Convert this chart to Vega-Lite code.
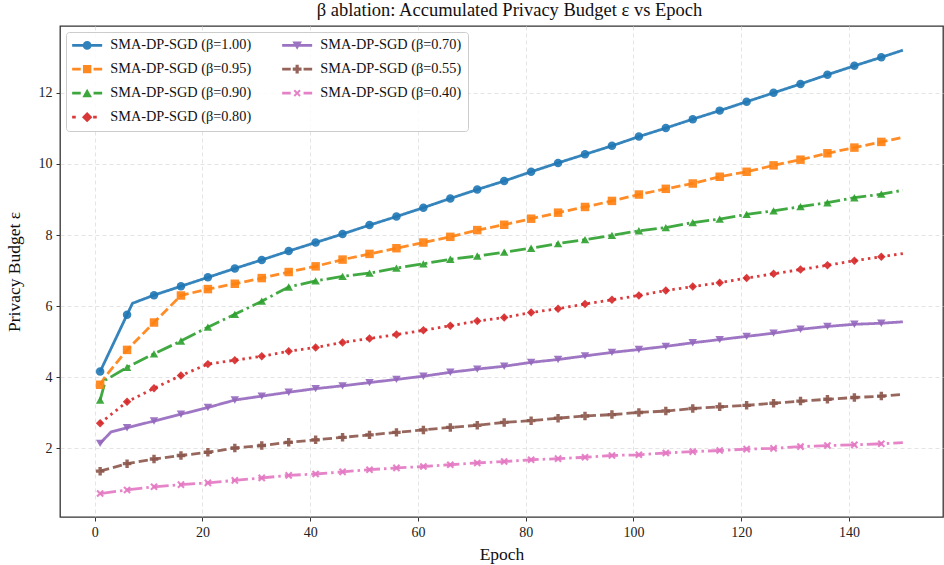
{
  "$schema": "https://vega.github.io/schema/vega-lite/v6.json",
  "width": 883,
  "height": 491,
  "autosize": {"type": "none"},
  "padding": {"left": 60, "top": 26, "right": 1, "bottom": 48},
  "background": "white",
  "config": {
    "view": {"stroke": "#333333", "strokeWidth": 1.3},
    "font": "Liberation Serif",
    "axis": {
      "domain": false,
      "labelFont": "Liberation Serif",
      "labelFontSize": 14,
      "labelColor": "#222222",
      "titleFont": "Liberation Serif",
      "titleFontSize": 17.5,
      "titleFontWeight": "normal",
      "titleColor": "#111111",
      "tickColor": "#333333",
      "tickSize": 4,
      "tickWidth": 1,
      "grid": true,
      "gridColor": "#dddddd",
      "gridDash": [4, 3],
      "gridWidth": 0.8
    },
    "title": {"font": "Liberation Serif", "fontSize": 18.5, "fontWeight": "normal", "color": "#111111", "offset": 7, "dx": 8}
  },
  "title": {"text": "β ablation: Accumulated Privacy Budget ε vs Epoch"},
  "data": {
    "values": [
      {"s":"1.00","e":1,"v":4.16},{"s":"1.00","e":6,"v":5.76},{"s":"1.00","e":7,"v":6.08},{"s":"1.00","e":11,"v":6.31},{"s":"1.00","e":16,"v":6.56},{"s":"1.00","e":21,"v":6.81},{"s":"1.00","e":26,"v":7.06},{"s":"1.00","e":31,"v":7.30},{"s":"1.00","e":36,"v":7.55},{"s":"1.00","e":41,"v":7.79},{"s":"1.00","e":46,"v":8.03},{"s":"1.00","e":51,"v":8.28},{"s":"1.00","e":56,"v":8.52},{"s":"1.00","e":61,"v":8.77},{"s":"1.00","e":66,"v":9.03},{"s":"1.00","e":71,"v":9.28},{"s":"1.00","e":76,"v":9.52},{"s":"1.00","e":81,"v":9.78},{"s":"1.00","e":86,"v":10.03},{"s":"1.00","e":91,"v":10.27},{"s":"1.00","e":96,"v":10.51},{"s":"1.00","e":101,"v":10.77},{"s":"1.00","e":106,"v":11.01},{"s":"1.00","e":111,"v":11.26},{"s":"1.00","e":116,"v":11.50},{"s":"1.00","e":121,"v":11.75},{"s":"1.00","e":126,"v":12.00},{"s":"1.00","e":131,"v":12.25},{"s":"1.00","e":136,"v":12.51},{"s":"1.00","e":141,"v":12.76},{"s":"1.00","e":146,"v":13.00},{"s":"1.00","e":150,"v":13.20},
      {"s":"0.95","e":1,"v":3.79},{"s":"0.95","e":2,"v":4.03},{"s":"0.95","e":6,"v":4.77},{"s":"0.95","e":11,"v":5.54},{"s":"0.95","e":16,"v":6.30},{"s":"0.95","e":21,"v":6.48},{"s":"0.95","e":26,"v":6.63},{"s":"0.95","e":31,"v":6.79},{"s":"0.95","e":36,"v":6.96},{"s":"0.95","e":41,"v":7.12},{"s":"0.95","e":46,"v":7.31},{"s":"0.95","e":51,"v":7.47},{"s":"0.95","e":56,"v":7.63},{"s":"0.95","e":61,"v":7.79},{"s":"0.95","e":66,"v":7.95},{"s":"0.95","e":71,"v":8.14},{"s":"0.95","e":76,"v":8.29},{"s":"0.95","e":81,"v":8.46},{"s":"0.95","e":86,"v":8.63},{"s":"0.95","e":91,"v":8.79},{"s":"0.95","e":96,"v":8.96},{"s":"0.95","e":101,"v":9.14},{"s":"0.95","e":106,"v":9.30},{"s":"0.95","e":111,"v":9.45},{"s":"0.95","e":116,"v":9.64},{"s":"0.95","e":121,"v":9.78},{"s":"0.95","e":126,"v":9.96},{"s":"0.95","e":131,"v":10.12},{"s":"0.95","e":136,"v":10.30},{"s":"0.95","e":141,"v":10.46},{"s":"0.95","e":146,"v":10.62},{"s":"0.95","e":150,"v":10.75},
      {"s":"0.90","e":1,"v":3.36},{"s":"0.90","e":2,"v":3.92},{"s":"0.90","e":6,"v":4.28},{"s":"0.90","e":11,"v":4.66},{"s":"0.90","e":16,"v":5.02},{"s":"0.90","e":21,"v":5.41},{"s":"0.90","e":26,"v":5.77},{"s":"0.90","e":31,"v":6.14},{"s":"0.90","e":36,"v":6.54},{"s":"0.90","e":41,"v":6.71},{"s":"0.90","e":46,"v":6.84},{"s":"0.90","e":51,"v":6.93},{"s":"0.90","e":56,"v":7.07},{"s":"0.90","e":61,"v":7.19},{"s":"0.90","e":66,"v":7.32},{"s":"0.90","e":71,"v":7.41},{"s":"0.90","e":76,"v":7.52},{"s":"0.90","e":81,"v":7.63},{"s":"0.90","e":86,"v":7.76},{"s":"0.90","e":91,"v":7.87},{"s":"0.90","e":96,"v":7.99},{"s":"0.90","e":101,"v":8.12},{"s":"0.90","e":106,"v":8.21},{"s":"0.90","e":111,"v":8.35},{"s":"0.90","e":116,"v":8.45},{"s":"0.90","e":121,"v":8.58},{"s":"0.90","e":126,"v":8.68},{"s":"0.90","e":131,"v":8.80},{"s":"0.90","e":136,"v":8.91},{"s":"0.90","e":141,"v":9.05},{"s":"0.90","e":146,"v":9.15},{"s":"0.90","e":150,"v":9.26},
      {"s":"0.80","e":1,"v":2.71},{"s":"0.80","e":6,"v":3.31},{"s":"0.80","e":11,"v":3.69},{"s":"0.80","e":16,"v":4.05},{"s":"0.80","e":21,"v":4.37},{"s":"0.80","e":26,"v":4.48},{"s":"0.80","e":31,"v":4.59},{"s":"0.80","e":36,"v":4.73},{"s":"0.80","e":41,"v":4.84},{"s":"0.80","e":46,"v":4.98},{"s":"0.80","e":51,"v":5.09},{"s":"0.80","e":56,"v":5.20},{"s":"0.80","e":61,"v":5.32},{"s":"0.80","e":66,"v":5.45},{"s":"0.80","e":71,"v":5.58},{"s":"0.80","e":76,"v":5.68},{"s":"0.80","e":81,"v":5.82},{"s":"0.80","e":86,"v":5.93},{"s":"0.80","e":91,"v":6.06},{"s":"0.80","e":96,"v":6.18},{"s":"0.80","e":101,"v":6.30},{"s":"0.80","e":106,"v":6.44},{"s":"0.80","e":111,"v":6.55},{"s":"0.80","e":116,"v":6.66},{"s":"0.80","e":121,"v":6.79},{"s":"0.80","e":126,"v":6.91},{"s":"0.80","e":131,"v":7.03},{"s":"0.80","e":136,"v":7.15},{"s":"0.80","e":141,"v":7.28},{"s":"0.80","e":146,"v":7.39},{"s":"0.80","e":150,"v":7.48},
      {"s":"0.70","e":1,"v":2.14},{"s":"0.70","e":3,"v":2.46},{"s":"0.70","e":6,"v":2.58},{"s":"0.70","e":11,"v":2.77},{"s":"0.70","e":16,"v":2.96},{"s":"0.70","e":21,"v":3.15},{"s":"0.70","e":26,"v":3.36},{"s":"0.70","e":31,"v":3.47},{"s":"0.70","e":36,"v":3.58},{"s":"0.70","e":41,"v":3.68},{"s":"0.70","e":46,"v":3.76},{"s":"0.70","e":51,"v":3.85},{"s":"0.70","e":56,"v":3.94},{"s":"0.70","e":61,"v":4.03},{"s":"0.70","e":66,"v":4.14},{"s":"0.70","e":71,"v":4.23},{"s":"0.70","e":76,"v":4.31},{"s":"0.70","e":81,"v":4.42},{"s":"0.70","e":86,"v":4.50},{"s":"0.70","e":91,"v":4.60},{"s":"0.70","e":96,"v":4.70},{"s":"0.70","e":101,"v":4.78},{"s":"0.70","e":106,"v":4.87},{"s":"0.70","e":111,"v":4.97},{"s":"0.70","e":116,"v":5.06},{"s":"0.70","e":121,"v":5.15},{"s":"0.70","e":126,"v":5.24},{"s":"0.70","e":131,"v":5.35},{"s":"0.70","e":136,"v":5.43},{"s":"0.70","e":141,"v":5.49},{"s":"0.70","e":146,"v":5.52},{"s":"0.70","e":150,"v":5.56},
      {"s":"0.55","e":1,"v":1.36},{"s":"0.55","e":6,"v":1.57},{"s":"0.55","e":11,"v":1.70},{"s":"0.55","e":16,"v":1.80},{"s":"0.55","e":21,"v":1.89},{"s":"0.55","e":26,"v":2.01},{"s":"0.55","e":31,"v":2.08},{"s":"0.55","e":36,"v":2.17},{"s":"0.55","e":41,"v":2.24},{"s":"0.55","e":46,"v":2.31},{"s":"0.55","e":51,"v":2.38},{"s":"0.55","e":56,"v":2.45},{"s":"0.55","e":61,"v":2.52},{"s":"0.55","e":66,"v":2.59},{"s":"0.55","e":71,"v":2.65},{"s":"0.55","e":76,"v":2.73},{"s":"0.55","e":81,"v":2.78},{"s":"0.55","e":86,"v":2.85},{"s":"0.55","e":91,"v":2.91},{"s":"0.55","e":96,"v":2.95},{"s":"0.55","e":101,"v":3.01},{"s":"0.55","e":106,"v":3.05},{"s":"0.55","e":111,"v":3.12},{"s":"0.55","e":116,"v":3.17},{"s":"0.55","e":121,"v":3.21},{"s":"0.55","e":126,"v":3.27},{"s":"0.55","e":131,"v":3.33},{"s":"0.55","e":136,"v":3.38},{"s":"0.55","e":141,"v":3.43},{"s":"0.55","e":146,"v":3.47},{"s":"0.55","e":150,"v":3.52},
      {"s":"0.40","e":1,"v":0.73},{"s":"0.40","e":6,"v":0.83},{"s":"0.40","e":11,"v":0.92},{"s":"0.40","e":16,"v":0.98},{"s":"0.40","e":21,"v":1.03},{"s":"0.40","e":26,"v":1.10},{"s":"0.40","e":31,"v":1.17},{"s":"0.40","e":36,"v":1.24},{"s":"0.40","e":41,"v":1.28},{"s":"0.40","e":46,"v":1.34},{"s":"0.40","e":51,"v":1.40},{"s":"0.40","e":56,"v":1.45},{"s":"0.40","e":61,"v":1.49},{"s":"0.40","e":66,"v":1.54},{"s":"0.40","e":71,"v":1.59},{"s":"0.40","e":76,"v":1.63},{"s":"0.40","e":81,"v":1.68},{"s":"0.40","e":86,"v":1.71},{"s":"0.40","e":91,"v":1.75},{"s":"0.40","e":96,"v":1.80},{"s":"0.40","e":101,"v":1.82},{"s":"0.40","e":106,"v":1.87},{"s":"0.40","e":111,"v":1.91},{"s":"0.40","e":116,"v":1.94},{"s":"0.40","e":121,"v":1.98},{"s":"0.40","e":126,"v":2.00},{"s":"0.40","e":131,"v":2.05},{"s":"0.40","e":136,"v":2.08},{"s":"0.40","e":141,"v":2.10},{"s":"0.40","e":146,"v":2.13},{"s":"0.40","e":150,"v":2.16}
    ]
  },
  "encoding": {
    "x": {
      "field": "e", "type": "quantitative", "title": "Epoch",
      "scale": {"domain": [-6.45, 157.45], "nice": false, "zero": false},
      "axis": {"values": [0, 20, 40, 60, 80, 100, 120, 140], "labelPadding": 4, "titlePadding": 6}
    },
    "y": {
      "field": "v", "type": "quantitative", "title": "Privacy Budget ε",
      "scale": {"domain": [0.07, 13.88], "nice": false, "zero": false},
      "axis": {"values": [2, 4, 6, 8, 10, 12], "labelPadding": 4, "titlePadding": 15}
    },
    "color": {
      "field": "s", "type": "nominal",
      "scale": {
        "domain": ["1.00", "0.95", "0.90", "0.80", "0.70", "0.55", "0.40"],
        "range": ["#1f77b4", "#ff7f0e", "#2ca02c", "#d62728", "#9467bd", "#8c564b", "#e377c2"]
      },
      "legend": {
        "orient": "top-left",
        "offset": 6,
        "columns": 2,
        "title": null,
        "labelExpr": "'SMA-DP-SGD (β=' + datum.label + ')'",
        "labelFont": "Liberation Serif",
        "labelFontSize": 14.3,
        "labelColor": "#111111",
        "labelLimit": 400,
        "symbolSize": 64,
        "symbolStrokeWidth": 0,
        "symbolOpacity": 0.92,
        "symbolType": {"expr": "datum.value == '1.00' ? 'M-3.75,-0.35H3.75V0.35H-3.75Z M1.1,0A1.1,1.1 0 1 1 -1.1,0A1.1,1.1 0 1 1 1.1,0Z' : datum.value == '0.95' ? 'M-3.75,-0.35H-1.6V0.35H-3.75Z M1.6,-0.35H3.75V0.35H1.6Z M-1.05,-1.05H1.05V1.05H-1.05Z' : datum.value == '0.90' ? 'M-3.75,-0.35H-1.6V0.35H-3.75Z M1.6,-0.35H3.75V0.35H1.6Z M0,-1.1L1.2,1H-1.2Z' : datum.value == '0.80' ? 'M-3.75,-0.35H-2.85V0.35H-3.75Z M1.5,-0.35H2.4V0.35H1.5Z M0,-1.3L1.3,0L0,1.3L-1.3,0Z' : datum.value == '0.70' ? 'M-3.75,-0.35H3.75V0.35H-3.75Z M0,1.1L-1.2,-1H1.2Z' : datum.value == '0.55' ? 'M-3.75,-0.35H-1.6V0.35H-3.75Z M1.6,-0.35H3.75V0.35H1.6Z M-0.4,-1.1H0.4V-0.4H1.1V0.4H0.4V1.1H-0.4V0.4H-1.1V-0.4H-0.4Z' : 'M-3.75,-0.35H-1.6V0.35H-3.75Z M1.6,-0.35H3.75V0.35H1.6Z M-0.55,-0.9L0,-0.35L0.55,-0.9L0.9,-0.55L0.35,0L0.9,0.55L0.55,0.9L0,0.35L-0.55,0.9L-0.9,0.55L-0.35,0L-0.9,-0.55Z'"},
        "symbolOffset": 8,
        "labelOffset": 16,
        "columnPadding": 30,
        "rowPadding": 9,
        "padding": 6,
        "strokeColor": "#cccccc",
        "fillColor": "rgba(255,255,255,0.85)",
        "cornerRadius": 3
      }
    }
  },
  "layer": [
    {
      "mark": {"type": "line", "strokeWidth": 2.8, "opacity": 0.9},
      "encoding": {
        "strokeDash": {
          "field": "s", "type": "nominal", "legend": null,
          "scale": {
            "domain": ["0.40", "0.55", "0.70", "0.80", "0.90", "0.95", "1.00"],
            "range": [[16, 4, 2.5, 4], [9.25, 4], [1, 0], [2.5, 4.1], [16, 4, 2.5, 4], [9.25, 4], [1, 0]]
          }
        },
        "order": {"field": "e", "type": "quantitative"}
      }
    },
    {
      "transform": [{"filter": "datum.e % 5 == 1"}],
      "mark": {"type": "point", "filled": true, "size": 72, "opacity": 0.9, "strokeWidth": 0},
      "encoding": {
        "shape": {
          "field": "s", "type": "nominal", "legend": null,
          "scale": {
            "domain": ["0.40", "0.55", "0.70", "0.80", "0.90", "0.95", "1.00"],
            "range": ["M-0.55,-0.9L0,-0.35L0.55,-0.9L0.9,-0.55L0.35,0L0.9,0.55L0.55,0.9L0,0.35L-0.55,0.9L-0.9,0.55L-0.35,0L-0.9,-0.55Z", "cross", "triangle-down", "diamond", "triangle-up", "square", "circle"]
          }
        }
      }
    }
  ]
}
